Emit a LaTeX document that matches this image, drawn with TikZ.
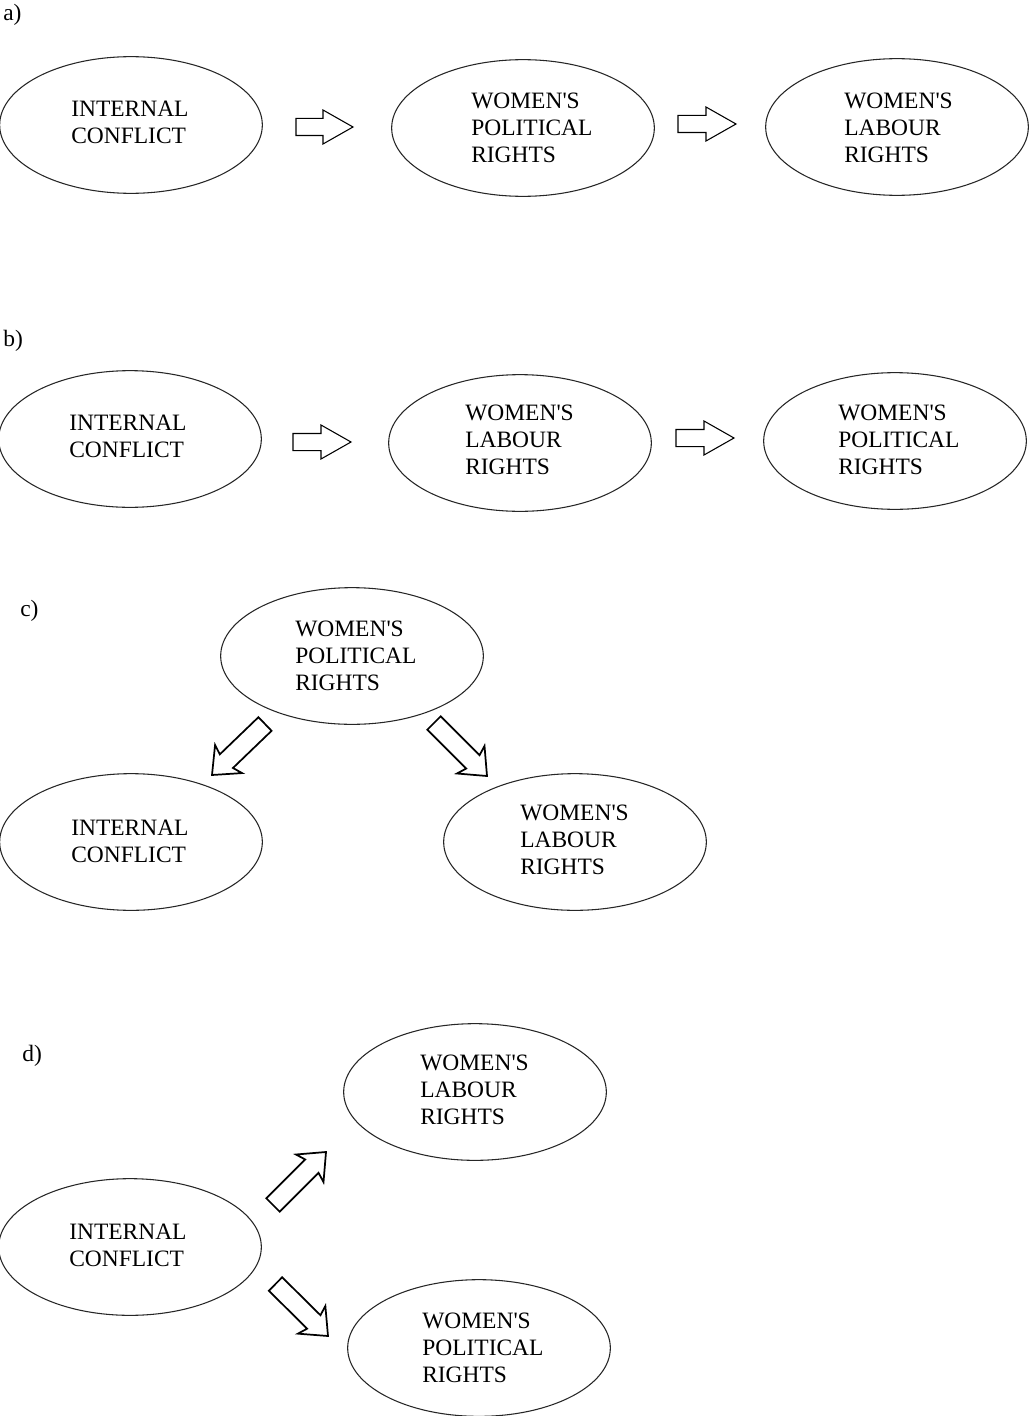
\documentclass[tikz,border=0pt]{standalone}
\usepackage{fontspec}
\setmainfont{Liberation Serif}[Ligatures=TeXOff]
\usetikzlibrary{shapes.geometric,calc}
\tikzset{
  oval/.style={ellipse, draw=black!85, line width=0.8pt, minimum width=197pt, minimum height=102.5pt, inner sep=0pt},
  lbl/.style={anchor=north west, inner sep=0pt, align=left, font=\fontsize{17.6pt}{20.25pt}\selectfont},
  tag/.style={anchor=west, inner sep=0pt, font=\fontsize{17.6pt}{20.25pt}\selectfont},
  harrow/.style={draw=black, line width=0.8pt, line join=miter, fill=white},
  darrow/.style={draw=black, line width=1.3pt, line join=miter, fill=white},
}
% #1 start, #2 tip, #3 shaft half width, #4 head half width, #5 barb distance from tip, #6 junction distance from tip, #7 style
\newcommand\blockarrow[7]{%
  \draw[#7] ($(#1)!#3!90:(#2)$)
    -- ($(#2)!#6!(#1)!#3!-90:(#1)$)
    -- ($(#2)!#5!(#1)!#4!-90:(#1)$)
    -- (#2)
    -- ($(#2)!#5!(#1)!#4!90:(#1)$)
    -- ($(#2)!#6!(#1)!#3!90:(#1)$)
    -- ($(#1)!#3!-90:(#2)$) -- cycle;}
\begin{document}
\begin{tikzpicture}[x=0.75pt,y=-0.75pt]
\useasboundingbox (0,0) rectangle (1030,1416);
% ---------- a)
\node[tag] (ta) at (3,15) {a)};
\node[oval] (a1) at (131,125) {};
\node[oval] (a2) at (523,128) {};
\node[oval] (a3) at (897,127) {};
\node[lbl] (a1t) at (71,101) {INTERNAL\\CONFLICT};
\node[lbl] (a2t) at (471,93) {WOMEN'S\\POLITICAL\\RIGHTS};
\node[lbl] (a3t) at (844,93) {WOMEN'S\\LABOUR\\RIGHTS};
\coordinate (a12s) at (296,127); \coordinate (a12e) at (353,127);
\coordinate (a23s) at (678,124); \coordinate (a23e) at (736,124);
\blockarrow{a12s}{a12e}{6.4pt}{12.75pt}{22.5pt}{22.5pt}{harrow}
\blockarrow{a23s}{a23e}{6.4pt}{12.75pt}{22.5pt}{22.5pt}{harrow}
% ---------- b)
\node[tag] (tb) at (3,341) {b)};
\node[oval] (b1) at (130,439) {};
\node[oval] (b2) at (520,443) {};
\node[oval] (b3) at (895,441) {};
\node[lbl] (b1t) at (69,415) {INTERNAL\\CONFLICT};
\node[lbl] (b2t) at (465,405) {WOMEN'S\\LABOUR\\RIGHTS};
\node[lbl] (b3t) at (838,405) {WOMEN'S\\POLITICAL\\RIGHTS};
\coordinate (b12s) at (293,442); \coordinate (b12e) at (351,442);
\coordinate (b23s) at (676,438); \coordinate (b23e) at (734,438);
\blockarrow{b12s}{b12e}{6.4pt}{12.75pt}{22.5pt}{22.5pt}{harrow}
\blockarrow{b23s}{b23e}{6.4pt}{12.75pt}{22.5pt}{22.5pt}{harrow}
% ---------- c)
\node[tag] (tc) at (20,611) {c)};
\node[oval] (c1) at (352,656) {};
\node[oval] (c2) at (131,842) {};
\node[oval] (c3) at (575,842) {};
\node[lbl] (c1t) at (295,621) {WOMEN'S\\POLITICAL\\RIGHTS};
\node[lbl] (c2t) at (71,820) {INTERNAL\\CONFLICT};
\node[lbl] (c3t) at (520,805) {WOMEN'S\\LABOUR\\RIGHTS};
\coordinate (c12s) at (265,724); \coordinate (c12e) at (212,775);
\coordinate (c13s) at (434,723); \coordinate (c13e) at (487,776);
\blockarrow{c12s}{c12e}{7.1pt}{14.6pt}{17.25pt}{15pt}{darrow}
\blockarrow{c13s}{c13e}{7.1pt}{14.6pt}{17.25pt}{15pt}{darrow}
% ---------- d)
\node[tag] (td) at (22,1056) {d)};
\node[oval] (d1) at (475,1092) {};
\node[oval] (d2) at (130,1247) {};
\node[oval] (d3) at (479,1348) {};
\node[lbl] (d1t) at (420,1055) {WOMEN'S\\LABOUR\\RIGHTS};
\node[lbl] (d2t) at (69,1224) {INTERNAL\\CONFLICT};
\node[lbl] (d3t) at (422,1313) {WOMEN'S\\POLITICAL\\RIGHTS};
\coordinate (d21s) at (273,1205); \coordinate (d21e) at (326,1152);
\coordinate (d23s) at (275.5,1284); \coordinate (d23e) at (328,1336);
\blockarrow{d21s}{d21e}{7.1pt}{14.6pt}{17.25pt}{15pt}{darrow}
\blockarrow{d23s}{d23e}{7.1pt}{14.6pt}{17.25pt}{15pt}{darrow}
\end{tikzpicture}
\end{document}
